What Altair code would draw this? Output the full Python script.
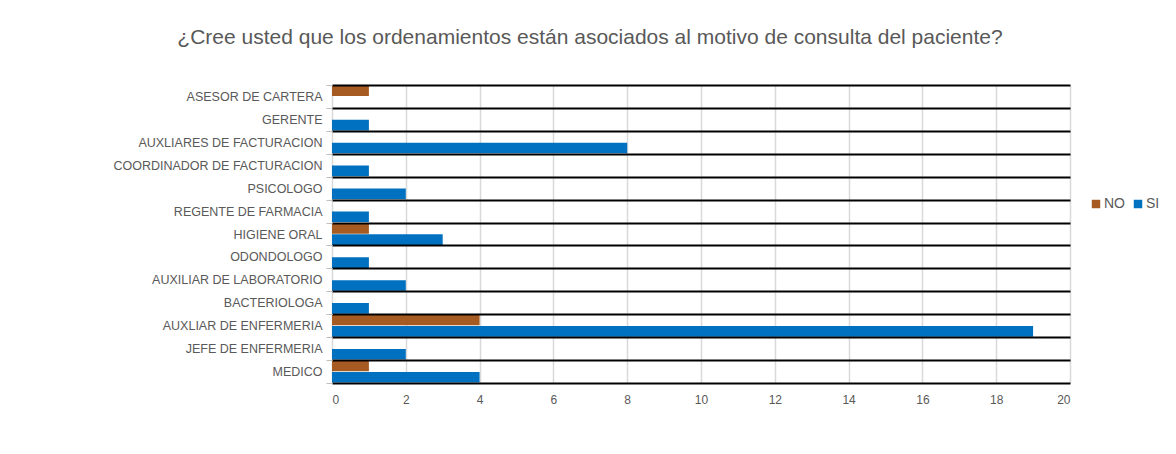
import altair as alt
import pandas as pd

categories = [
    "ASESOR DE CARTERA",
    "GERENTE",
    "AUXLIARES DE FACTURACION",
    "COORDINADOR DE FACTURACION",
    "PSICOLOGO",
    "REGENTE DE FARMACIA",
    "HIGIENE ORAL",
    "ODONDOLOGO",
    "AUXILIAR DE LABORATORIO",
    "BACTERIOLOGA",
    "AUXLIAR DE ENFERMERIA",
    "JEFE DE ENFERMERIA",
    "MEDICO",
]
no_values = [1, 0, 0, 0, 0, 0, 1, 0, 0, 0, 4, 0, 1]
si_values = [0, 1, 8, 1, 2, 1, 3, 1, 2, 1, 19, 2, 4]
series = ["NO", "SI"]
colors = ["#A65B22", "#0070C0"]
x_ticks = [0, 2, 4, 6, 8, 10, 12, 14, 16, 18, 20]

rows = []
for c, n, s in zip(categories, no_values, si_values):
    rows.append({"cat": c, "serie": "NO", "val": n})
    rows.append({"cat": c, "serie": "SI", "val": s})
df = pd.DataFrame(rows)

FONT = "Liberation Sans"
GRAY = "#595959"

chart = alt.Chart(df).mark_bar().encode(
    y=alt.Y("cat:N", sort=categories, title=None,
            scale=alt.Scale(paddingInner=0, paddingOuter=0),
            axis=alt.Axis(domain=False, tickBand="extent", grid=True,
                          gridColor="#000000", gridWidth=2,
                          ticks=True, tickColor="#BFBFBF", tickSize=6, tickWidth=1,
                          labelColor=GRAY, labelFontSize=12.5, labelFont=FONT,
                          labelLimit=400, labelPadding=4, zindex=1)),
    yOffset=alt.YOffset("serie:N", sort=series,
                        scale=alt.Scale(paddingInner=0.06, paddingOuter=0.04)),
    x=alt.X("val:Q", title=None,
            scale=alt.Scale(domain=[0, 20], nice=False),
            axis=alt.Axis(values=x_ticks, domain=False, ticks=False, grid=True,
                          gridColor="#D9D9D9", gridWidth=1.5,
                          labelColor=GRAY, labelFontSize=12, labelFont=FONT,
                          labelPadding=11, zindex=0)),
    color=alt.Color("serie:N", sort=series,
                    scale=alt.Scale(domain=series, range=colors),
                    legend=alt.Legend(title=None, orient="none", legendX=757, legendY=112,
                                      direction="horizontal", symbolType="square",
                                      symbolSize=72, symbolStrokeWidth=0,
                                      labelColor=GRAY, labelFontSize=14, labelFont=FONT,
                                      labelOffset=1, columnPadding=6)),
).properties(
    width=738,
    height=298,
    title=alt.TitleParams(
        "¿Cree usted que los ordenamientos están asociados al motivo de consulta del paciente?",
        anchor="middle", dx=-111, offset=31, fontSize=21, fontWeight="normal",
        color=GRAY, font=FONT),
    autosize=alt.AutoSizeParams(type="none"),
    padding={"left": 324, "top": 77, "right": 98, "bottom": 63},
).configure_view(stroke=None)

chart.save("out.html", embed_options={"renderer": "svg", "actions": False})
